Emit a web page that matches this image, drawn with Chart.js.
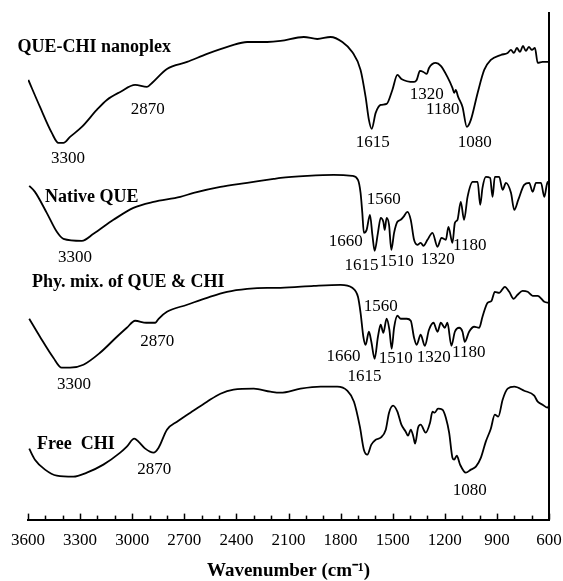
<!DOCTYPE html>
<html>
<head>
<meta charset="utf-8">
<script src="https://cdn.jsdelivr.net/npm/chart.js@4/dist/chart.umd.min.js"></script>
<style>
  html, body { margin: 0; padding: 0; background: #fff; }
  canvas { display: block; }
</style>
</head>
<body>
<canvas id="c" width="563" height="581"></canvas>
<script>
// Wavenumbers (cm-1) and relative transmittance (arbitrary units, stacked offsets)
const wnNano = [3598,3531,3463,3425,3396,3358,3290,3204,3146,3069,2983,2915,2886,2800,2684,2569,2435,2338,2223,2146,2012,1934,1858,1790,1733,1685,1656,1637,1621,1598,1569,1535,1502,1473,1450,1377,1362,1343,1323,1304,1291,1252,1223,1185,1156,1146,1137,1123,1098,1073,1050,1011,973,935,877,838,819,802,785,767,750,733,716,698,681,665,637,600];
const tNano = [440,413,387,377,377,383,393,410,420,428,435,433,437,451,458,466,474,478,478,479,483,481,483,478,468,450,423,400,391,407,415,416,430,445,441,438,440,449,448,446,452,457,454,443,432,427,430,423,413,393,400,427,450,460,465,467,470,467,472,468,474,469,473,470,472,457,458,458];

const wnQue = [3593,3560,3492,3434,3396,3290,3223,3108,2993,2877,2723,2646,2492,2338,2185,2146,1992,1839,1733,1700,1685,1675,1666,1650,1631,1617,1604,1585,1569,1554,1546,1535,1521,1508,1492,1473,1454,1438,1415,1396,1377,1358,1339,1323,1300,1271,1242,1219,1194,1179,1156,1142,1127,1108,1089,1069,1040,1011,996,983,964,939,925,912,887,867,848,819,800,777,743,714,694,675,646,627,608,600];
const tQue = [334,328,307,288,281,279,286,300,312,318,323,327,333,337,341,342,344,345,344,340,327,307,287,290,305,285,269,287,302,298,290,302,295,270,287,298,300,303,308,300,280,275,277,274,280,287,273,282,280,293,277,297,300,318,300,323,338,338,315,332,343,342,323,343,343,330,337,327,310,320,335,337,328,337,337,323,338,335];

const wnMix = [3593,3531,3454,3406,3358,3281,3185,3088,3031,2983,2919,2867,2848,2800,2684,2569,2454,2338,2223,2146,1954,1800,1733,1700,1685,1669,1656,1637,1623,1604,1585,1569,1554,1535,1519,1506,1492,1473,1454,1419,1396,1377,1362,1339,1315,1291,1265,1242,1223,1200,1185,1162,1142,1117,1098,1085,1060,1031,1002,983,954,931,912,887,854,829,804,781,752,723,694,665,627,600];
const tMix = [201,183,162,152,152,155,167,183,192,199,197,197,201,208,215,222,228,231,232,232,234,235,232,223,207,183,175,188,178,161,183,195,187,201,190,171,192,204,201,201,199,182,175,185,174,190,197,188,197,192,197,174,188,192,188,178,188,193,192,203,217,219,228,227,233,228,221,225,229,228,224,224,218,217];

const wnChi = [3593,3560,3502,3434,3339,3261,3166,3069,3031,2988,2964,2925,2877,2848,2800,2742,2665,2569,2492,2416,2300,2204,2146,2031,1915,1819,1762,1723,1689,1666,1646,1623,1598,1569,1540,1521,1498,1473,1450,1425,1412,1396,1381,1371,1354,1339,1310,1285,1271,1258,1239,1213,1194,1175,1156,1146,1131,1112,1079,1050,1021,992,964,935,912,892,867,838,800,743,685,665,637,608,600];
const tChi = [71,60,50,44,43,47,55,67,73,81,78,71,67,72,90,98,107,118,126,130,131,128,127,131,133,133,129,118,93,70,65,75,80,82,90,107,114,108,95,88,84,90,83,76,92,95,87,97,108,107,111,110,102,87,62,60,64,55,47,50,53,62,78,91,105,103,120,131,133,129,124,118,115,112,114];

const seriesNames = ["QUE-CHI nanoplex", "Native QUE", "Phy. mix. of QUE & CHI", "Free  CHI"];
const xTickStep = 300;

// Text annotations: text, wavenumber, transmittance, bold flag
const labelText = ["QUE-CHI nanoplex","3300","2870","1615","1320","1180","1080",
  "Native QUE","3300","1560","1660","1615","1510","1320","1180",
  "Phy. mix. of QUE & CHI","2870","3300","1560","1660","1615","1510","1320","1180",
  "Free  CHI","2870","1080"];
const labelWn = [3660,3369,2911,1615,1304,1212,1027,
  3502,3329,1552,1771,1679,1477,1240,1056,
  3577,2856,3335,1569,1783,1662,1483,1264,1062,
  3548,2873,1056];
const labelT = [473,361,410,377,425,410,377,
  323,262,320,278,254,258,260,274,
  237,178,135,213,163,143,161,162,167,
  75,50,29];
const labelBold = [1,0,0,0,0,0,0, 1,0,0,0,0,0,0,0, 1,0,0,0,0,0,0,0,0, 1,0,0];

const FONT = '"Liberation Serif", "Times New Roman", Times, serif';

function pts(xs, ys) { return xs.map((v, i) => ({ x: v, y: ys[i] })); }

const marks = {
  id: 'marks',
  afterDraw(chart) {
    const { ctx, chartArea, scales } = chart;
    const x = scales.x, y = scales.y;
    ctx.save();
    ctx.strokeStyle = '#000';
    ctx.lineWidth = 1.5;
    for (let v = 600; v <= 3600; v += 100) {
      const px = Math.round(x.getPixelForValue(v)) + 0.5;
      const len = (v % xTickStep === 0) ? 6 : 4;
      ctx.beginPath();
      ctx.moveTo(px, chartArea.bottom);
      ctx.lineTo(px, chartArea.bottom - len);
      ctx.stroke();
    }
    ctx.fillStyle = '#000';
    ctx.textBaseline = 'middle';
    for (let i = 0; i < labelText.length; i++) {
      const bold = labelBold[i] === 1;
      ctx.font = (bold ? 'bold 18px ' : '17px ') + FONT;
      ctx.textAlign = bold ? 'left' : 'center';
      ctx.fillText(labelText[i], x.getPixelForValue(labelWn[i]), y.getPixelForValue(labelT[i]));
    }
    ctx.restore();
  }
};

const ds = (name, xs, ys) => ({
  label: name,
  data: pts(xs, ys),
  borderColor: '#000',
  borderWidth: 1.8,
  pointRadius: 0,
  fill: false,
  cubicInterpolationMode: 'monotone'
});

new Chart(document.getElementById('c'), {
  type: 'line',
  data: {
    datasets: [
      ds(seriesNames[0], wnNano, tNano),
      ds(seriesNames[1], wnQue, tQue),
      ds(seriesNames[2], wnMix, tMix),
      ds(seriesNames[3], wnChi, tChi)
    ]
  },
  options: {
    responsive: false,
    animation: false,
    devicePixelRatio: 1,
    layout: { padding: { left: 28, right: 14, top: 13, bottom: 0 } },
    plugins: { legend: { display: false }, tooltip: { enabled: false } },
    scales: {
      x: {
        type: 'linear',
        reverse: true,
        min: 600,
        max: 3600,
        afterFit: s => { s.paddingLeft = 0; s.paddingRight = 0; },
        ticks: {
          stepSize: xTickStep,
          autoSkip: false,
          maxRotation: 0,
          padding: 11,
          color: '#000',
          font: { family: FONT, size: 17 },
          callback: v => String(v)
        },
        grid: { display: false, drawTicks: false },
        border: { display: true, color: '#000', width: 2 },
        title: {
          display: true,
          text: 'Wavenumber (cm⁻¹)',
          color: '#000',
          font: { family: FONT, size: 19, weight: 'bold', lineHeight: 1.0 },
          padding: { top: 0, bottom: 0 }
        }
      },
      y: {
        position: 'right',
        min: 0,
        max: 507,
        afterFit: s => { s.width = 0; },
        ticks: { display: false },
        grid: { display: false, drawTicks: false },
        border: { display: true, color: '#000', width: 2 }
      }
    }
  },
  plugins: [marks]
});
</script>
</body>
</html>
